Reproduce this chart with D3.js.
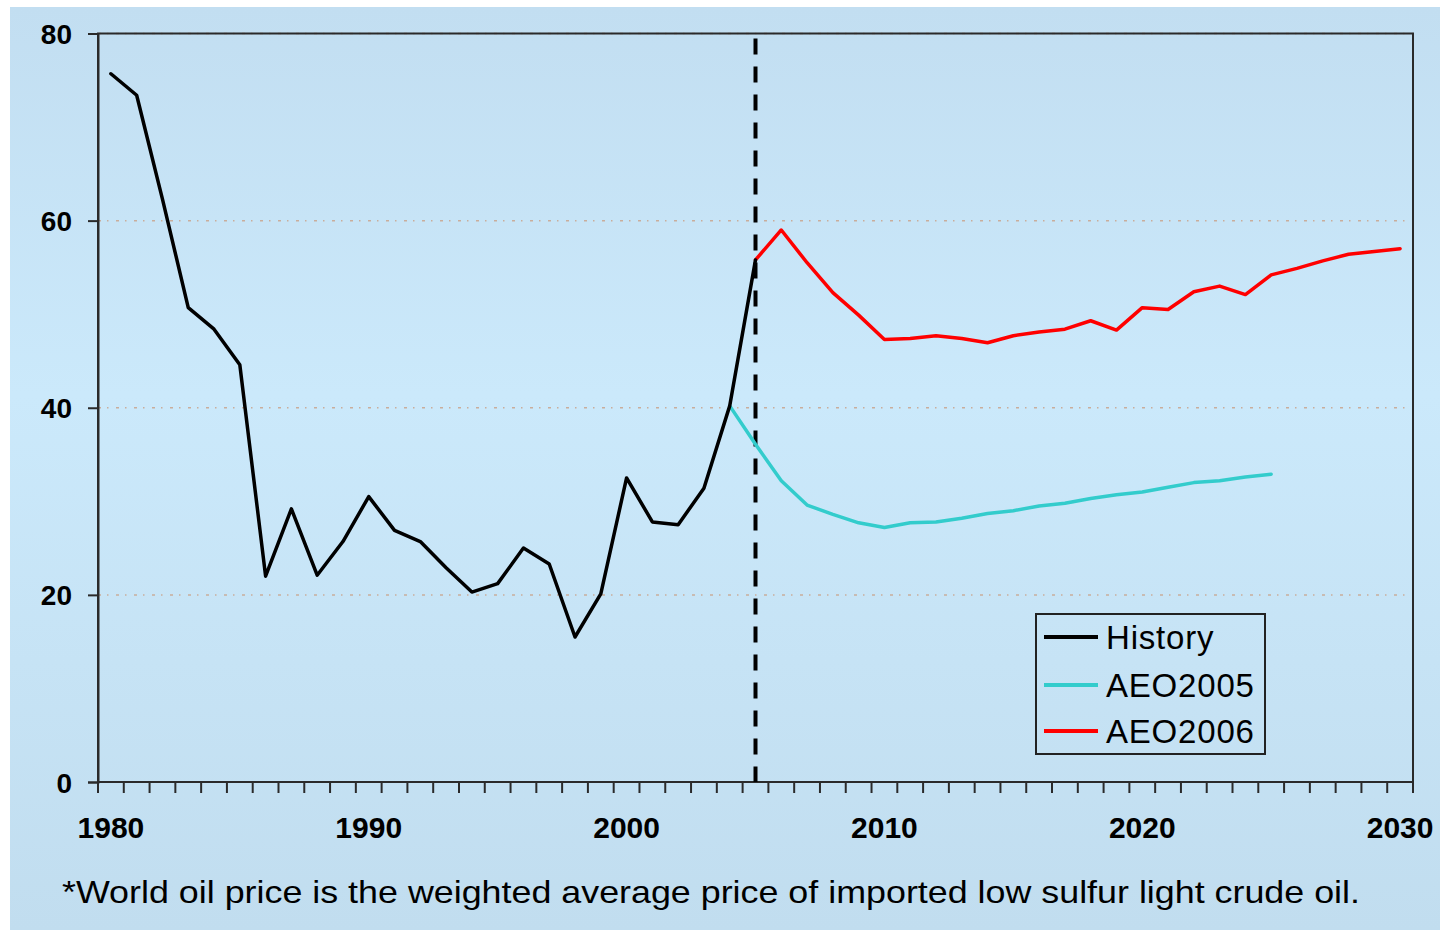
<!DOCTYPE html>
<html>
<head>
<meta charset="utf-8">
<script src="https://cdn.jsdelivr.net/npm/d3@7"></script>
<style>
  html, body { margin: 0; padding: 0; background: #ffffff; }
  svg { display: block; }
</style>
</head>
<body>
<svg id="chart" width="1440" height="930"></svg>
<script>
// ---- data ----
const allYears = d3.range(1980, 2031);
const xTickLabels = [1980, 1990, 2000, 2010, 2020, 2030];
const yTicks = [0, 20, 40, 60, 80];

const historyYears = d3.range(1980, 2006);
const historyValues = [75.7, 73.4, 62.3, 50.7, 48.4, 44.6, 22.0, 29.2, 22.1, 25.7,
                       30.5, 26.9, 25.7, 22.9, 20.3, 21.2, 25.0, 23.3, 15.5, 20.1,
                       32.5, 27.8, 27.5, 31.4, 40.2, 55.8];

const aeo2005Years = d3.range(2004, 2026);
const aeo2005Values = [40.2, 36.1, 32.2, 29.6, 28.6, 27.7, 27.2, 27.7, 27.8, 28.2,
                       28.7, 29.0, 29.5, 29.8, 30.3, 30.7, 31.0, 31.5, 32.0, 32.2,
                       32.6, 32.9];

const aeo2006Years = d3.range(2005, 2031);
const aeo2006Values = [55.8, 59.0, 55.5, 52.3, 49.9, 47.3, 47.4, 47.7, 47.4, 46.95,
                       47.7, 48.1, 48.4, 49.3, 48.3, 50.7, 50.5, 52.4, 53.0, 52.1,
                       54.2, 54.9, 55.7, 56.4, 56.7, 57.0];

const dividerYear = 2005;
const seriesNames = ["History", "AEO2005", "AEO2006"];
const seriesColors = ["#000000", "#33cccc", "#ff0000"];
const footnote = "*World oil price is the weighted average price of imported low sulfur light crude oil.";

// ---- layout ----
const svg = d3.select("#chart");
const plot = { left: 98, right: 1413, top: 33.5, bottom: 782 };

const defs = svg.append("defs");
const grad = defs.append("linearGradient").attr("id", "bg")
  .attr("x1", 0).attr("y1", 0).attr("x2", 0).attr("y2", 1);
grad.append("stop").attr("offset", "0%").attr("stop-color", "#c2def1");
grad.append("stop").attr("offset", "42%").attr("stop-color", "#cbe9fb");
grad.append("stop").attr("offset", "100%").attr("stop-color", "#c1ddef");

svg.append("rect").attr("x", 10).attr("y", 7).attr("width", 1430).attr("height", 923)
  .attr("fill", "url(#bg)");

const x = d3.scaleBand().domain(allYears).range([plot.left, plot.right]).padding(0);
const cx = yr => x(yr) + x.bandwidth() / 2;
const y = d3.scaleLinear().domain([0, 80]).range([plot.bottom, plot.top]);

// gridlines
svg.append("g").selectAll("line").data(yTicks.filter(v => v > 0)).join("line")
  .attr("x1", plot.left).attr("x2", plot.right)
  .attr("y1", d => y(d)).attr("y2", d => y(d))
  .attr("stroke", "#c9ad9c").attr("stroke-width", 1.5)
  .attr("stroke-dasharray", "3,6,1.5,7.5");

// frame (top/right)
svg.append("rect").attr("x", plot.left).attr("y", plot.top)
  .attr("width", plot.right - plot.left).attr("height", plot.bottom - plot.top)
  .attr("fill", "none").attr("stroke", "#2a2a2a").attr("stroke-width", 2);

// y axis
const yAxis = d3.axisLeft(y).tickValues(yTicks).tickSize(10).tickPadding(16).tickFormat(d3.format("d"));
const gy = svg.append("g").attr("transform", `translate(${plot.left},0)`).call(yAxis);
gy.select(".domain").attr("stroke", "#2a2a2a").attr("stroke-width", 2);
gy.selectAll(".tick line").attr("stroke", "#2a2a2a").attr("stroke-width", 2);
gy.selectAll(".tick text")
  .attr("font-family", "'Liberation Sans', Arial, sans-serif")
  .attr("font-size", 28).attr("font-weight", "bold").attr("fill", "#000")
  .attr("dy", "0.36em");

// x axis: boundary ticks
const boundaries = allYears.map(yr => x(yr)).concat([x(allYears[allYears.length - 1]) + x.bandwidth()]);
svg.append("g").selectAll("line").data(boundaries).join("line")
  .attr("x1", d => d).attr("x2", d => d)
  .attr("y1", plot.bottom).attr("y2", plot.bottom + 11)
  .attr("stroke", "#2a2a2a").attr("stroke-width", 2);
svg.append("line").attr("x1", plot.left).attr("x2", plot.right)
  .attr("y1", plot.bottom).attr("y2", plot.bottom)
  .attr("stroke", "#2a2a2a").attr("stroke-width", 2);

const xAxis = d3.axisBottom(x).tickValues(xTickLabels).tickSize(0).tickPadding(0);
const gx = svg.append("g").attr("transform", `translate(0,${plot.bottom})`).call(xAxis);
gx.select(".domain").remove();
gx.selectAll(".tick text")
  .attr("font-family", "'Liberation Sans', Arial, sans-serif")
  .attr("font-size", 30).attr("font-weight", "bold").attr("fill", "#000")
  .attr("dy", null).attr("y", 56);

// divider
svg.append("line")
  .attr("x1", cx(dividerYear)).attr("x2", cx(dividerYear))
  .attr("y1", plot.top + 5).attr("y2", plot.bottom)
  .attr("stroke", "#000").attr("stroke-width", 4)
  .attr("stroke-dasharray", "16,12");

// series
const line = d3.line().x(d => cx(d[0])).y(d => y(d[1]));
const series = [
  d3.zip(historyYears, historyValues),
  d3.zip(aeo2005Years, aeo2005Values),
  d3.zip(aeo2006Years, aeo2006Values)
];
[1, 2, 0].forEach(i => {
  svg.append("path").datum(series[i])
    .attr("d", line).attr("fill", "none")
    .attr("stroke", seriesColors[i]).attr("stroke-width", 3.5)
    .attr("stroke-linejoin", "round").attr("stroke-linecap", "round");
});

// legend
const lg = svg.append("g");
lg.append("rect").attr("x", 1036).attr("y", 614).attr("width", 229).attr("height", 140)
  .attr("fill", "none").attr("stroke", "#222").attr("stroke-width", 2);
const legendRowY = [637, 685, 731];
seriesNames.forEach((name, i) => {
  lg.append("line").attr("x1", 1044).attr("x2", 1098)
    .attr("y1", legendRowY[i]).attr("y2", legendRowY[i])
    .attr("stroke", seriesColors[i]).attr("stroke-width", 4);
  lg.append("text").attr("x", 1106).attr("y", legendRowY[i] + 12)
    .attr("font-family", "'Liberation Sans', Arial, sans-serif")
    .attr("font-size", 33).attr("letter-spacing", 0.8).attr("fill", "#000").text(name);
});

// footnote
svg.append("text").attr("x", 62).attr("y", 903)
  .attr("font-family", "'Liberation Sans', Arial, sans-serif")
  .attr("font-size", 32).attr("fill", "#000")
  .attr("textLength", 1298).attr("lengthAdjust", "spacingAndGlyphs")
  .text(footnote);
</script>
</body>
</html>
